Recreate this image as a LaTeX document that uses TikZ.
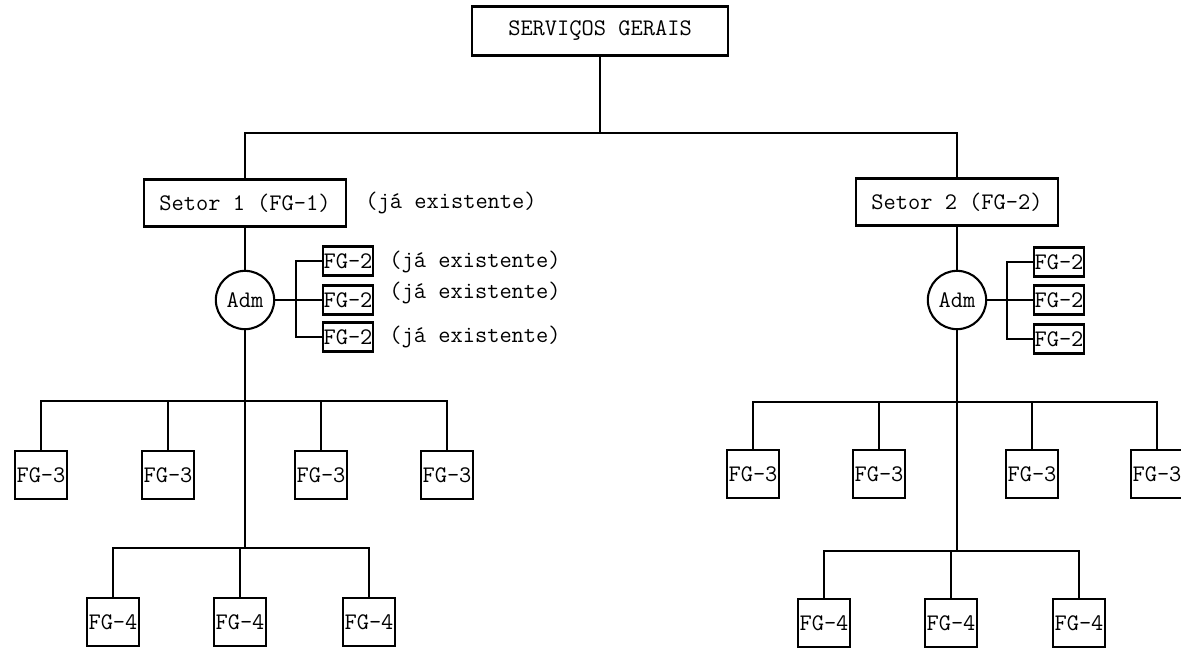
\documentclass[tikz,border=0pt]{standalone}
\usepackage{fontspec}
\usepackage{tikz}
\usetikzlibrary{positioning}

\begin{document}
\begin{tikzpicture}[
  x=0.48pt,
  y=-0.48pt,
  unit/.style={
    draw=black,
    line width=1.2pt,
    inner sep=0pt,
    align=center,
    font=\ttfamily\fontsize{11.4}{13}\selectfont
  },
  head/.style={
    unit,
    minimum width=123pt,
    minimum height=23.5pt
  },
  sector/.style={
    unit,
    minimum width=97pt,
    minimum height=22.5pt
  },
  adm/.style={
    unit,
    circle,
    line width=1pt,
    minimum size=28pt
  },
  fgtwo/.style={
    unit,
    minimum width=24pt,
    minimum height=14pt
  },
  fgbox/.style={
    unit,
    minimum width=25pt,
    minimum height=23pt
  },
  note/.style={
    anchor=west,
    inner sep=0pt,
    font=\ttfamily\fontsize{11.4}{13}\selectfont
  },
  link/.style={
    line width=1pt,
    black
  }
]

\useasboundingbox (0,0) rectangle (1181,648);

\node[head] (gerais) at (600,31) {SERVIÇOS GERAIS};

\node[sector] (setorA) at (245,203) {Setor 1 (FG-1)};
\node[sector] (setorB) at (957,202) {Setor 2 (FG-2)};

\node[note] (obsA) at (365,203) {(já existente)};

% Top level
\coordinate (busTop) at (600,133);
\draw[link] (gerais) -- (busTop);
\draw[link] (setorA.north) |- (busTop) -| (setorB.north);

% Setor 1
\node[adm] (admA) at (245,300) {Adm};
\draw[link] (setorA) -- (admA);

\node[fgtwo] (fgAa) at (348,261) {FG-2};
\node[fgtwo] (fgAb) at (348,300) {FG-2};
\node[fgtwo] (fgAc) at (348,337) {FG-2};

\draw[link] (admA) -- (fgAb);
\draw[link] (fgAa.west) -- ++(-26,0) |- (fgAc.west);

\node[note] (obsAa) at (389,262) {(já existente)};
\node[note] (obsAb) at (389,293) {(já existente)};
\node[note] (obsAc) at (389,337) {(já existente)};

\coordinate (busA3) at (245,401);
\coordinate (busA4) at (245,548);
\draw[link] (admA) -- (busA4);

\node[fgbox] (fgA3a) at (41,475) {FG-3};
\node[fgbox] (fgA3b) at (168,475) {FG-3};
\node[fgbox] (fgA3c) at (321,475) {FG-3};
\node[fgbox] (fgA3d) at (447,475) {FG-3};

\draw[link] (fgA3a.north) |- (busA3) -| (fgA3d.north);
\draw[link] (fgA3b.north) -- (fgA3b.north |- busA3);
\draw[link] (fgA3c.north) -- (fgA3c.north |- busA3);

\node[fgbox] (fgA4a) at (113,622) {FG-4};
\node[fgbox] (fgA4b) at (240,622) {FG-4};
\node[fgbox] (fgA4c) at (369,622) {FG-4};

\draw[link] (fgA4a.north) |- (busA4) -| (fgA4c.north);
\draw[link] (fgA4b.north) -- (fgA4b.north |- busA4);

% Setor 2
\node[adm] (admB) at (957,300) {Adm};
\draw[link] (setorB) -- (admB);

\node[fgtwo] (fgBa) at (1059,262) {FG-2};
\node[fgtwo] (fgBb) at (1059,300) {FG-2};
\node[fgtwo] (fgBc) at (1059,339) {FG-2};

\draw[link] (admB) -- (fgBb);
\draw[link] (fgBa.west) -- ++(-26,0) |- (fgBc.west);

\coordinate (busB3) at (957,402);
\coordinate (busB4) at (957,551);
\draw[link] (admB) -- (busB4);

\node[fgbox] (fgB3a) at (753,474) {FG-3};
\node[fgbox] (fgB3b) at (879,474) {FG-3};
\node[fgbox] (fgB3c) at (1032,474) {FG-3};
\node[fgbox] (fgB3d) at (1157,474) {FG-3};

\draw[link] (fgB3a.north) |- (busB3) -| (fgB3d.north);
\draw[link] (fgB3b.north) -- (fgB3b.north |- busB3);
\draw[link] (fgB3c.north) -- (fgB3c.north |- busB3);

\node[fgbox] (fgB4a) at (824,623) {FG-4};
\node[fgbox] (fgB4b) at (951,623) {FG-4};
\node[fgbox] (fgB4c) at (1079,623) {FG-4};

\draw[link] (fgB4a.north) |- (busB4) -| (fgB4c.north);
\draw[link] (fgB4b.north) -- (fgB4b.north |- busB4);

\end{tikzpicture}
\end{document}
